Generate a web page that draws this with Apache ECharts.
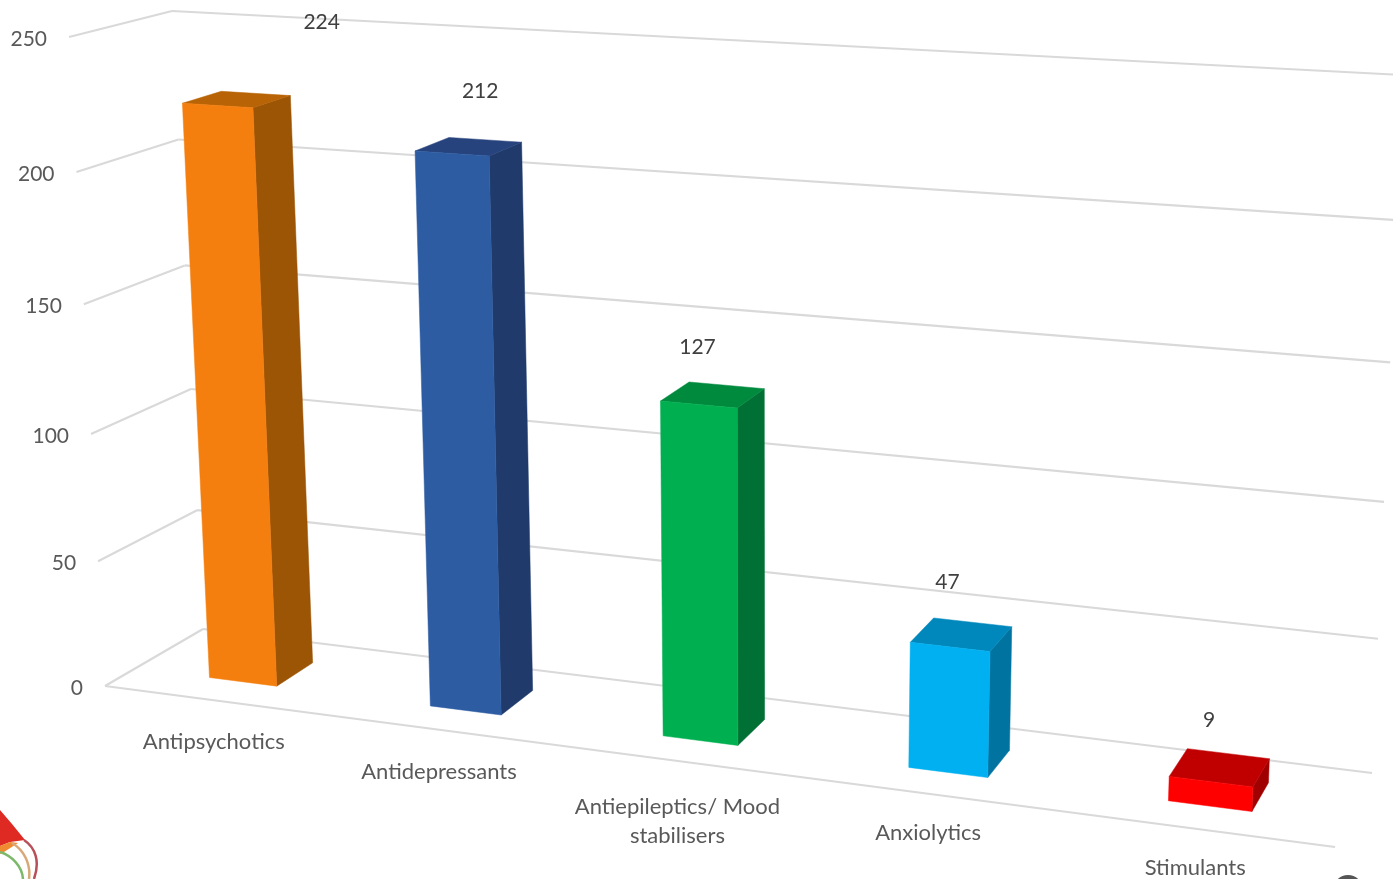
<!DOCTYPE html>
<html>
<head>
<meta charset="utf-8">
<title>Psychotropic prescriptions by class</title>
<style>html,body{margin:0;padding:0;background:#fff}#chart{width:1393px;height:879px}</style>
<script src="https://cdn.jsdelivr.net/npm/echarts@6/dist/echarts.min.js"></script>
</head>
<body>
<div id="chart"></div>
<script>
// Chart data
const categories = ['Antipsychotics', 'Antidepressants', 'Antiepileptics/ Mood\nstabilisers', 'Anxiolytics', 'Stimulants'];
const counts = [224, 212, 127, 47, 9];
const tickValues = [0, 50, 100, 150, 200, 250];
const tickLabels = ['0', '50', '100', '150', '200', '250'];

// Face colours per bar: front, side, top
const frontColors = ['#F47F0E', '#2D5CA3', '#00B050', '#00B0F0', '#FF0000'];
const sideColors = ['#9C5405', '#1F3A6B', '#007034', '#0073A0', '#A00000'];
const topColors = ['#B86305', '#26437D', '#008A3E', '#0088BC', '#C00000'];

// Pixel nudges for the text around the scene
const categoryLabelOffsets = [[0, 42], [-1, 42], [-1, 60], [-2, 39], [-1, 39]];
const valueLabelOffsets = [[66, -71], [-5, -49], [-29, -38], [-25, -40], [-19, -33]];

// Corners of the plot box on screen: [depth][value][category direction]
const boxCorners = {
  frontBottomLeft: [105, 686], frontBottomRight: [1335, 847],
  frontTopLeft: [69, 37], frontTopRight: [1368, 114],
  backBottomLeft: [203, 629], backBottomRight: [1372, 773],
  backTopLeft: [172, 11], backTopRight: [1403, 75]
};
const depthX = 0.145, depthV = 0.05;
const barBandShare = 0.31, barFrontDepth = 0.315, barBackDepth = 0.71;

const lerp = (a, b, t) => [a[0] + (b[0] - a[0]) * t, a[1] + (b[1] - a[1]) * t];
const warp = (t, k) => t / (1 + k * (1 - t));

// Project normalised plot coordinates (category, value, depth) into the box
function project(x, v, z) {
  const c = boxCorners, X = warp(x, depthX), V = warp(v, depthV);
  const frontBottom = lerp(c.frontBottomLeft, c.frontBottomRight, X);
  const frontTop = lerp(c.frontTopLeft, c.frontTopRight, X);
  const backBottom = lerp(c.backBottomLeft, c.backBottomRight, X);
  const backTop = lerp(c.backTopLeft, c.backTopRight, X);
  return lerp(lerp(frontBottom, frontTop, V), lerp(backBottom, backTop, V), z);
}

const normV = (api, cs, value) => (cs.y + cs.height - api.coord([0, value])[1]) / cs.height;
const normX = (cs, px) => (px - cs.x) / cs.width;
const FONT = '"Lato","Open Sans",sans-serif';
const gridStyle = { stroke: '#D9D9D9', lineWidth: 2.2, fill: null };

const line = (a, b) => ({ type: 'line', shape: { x1: a[0], y1: a[1], x2: b[0], y2: b[1] }, style: gridStyle });
const label = (text, p, fontSize, fill, align) => ({
  type: 'text',
  style: { text, x: p[0], y: p[1], fill, font: fontSize + 'px ' + FONT, align: align || 'center', verticalAlign: 'middle', lineHeight: 29 }
});

// Side wall, back wall and floor lines with the value ticks
function renderGrid(params, api) {
  const cs = params.coordSys, i = api.value(0), value = tickValues[i];
  const v = normV(api, cs, value);
  const children = [line(project(0, v, 0), project(0, v, 1)), line(project(0, v, 1), project(1, v, 1))];
  if (value === 0) children.push(line(project(0, 0, 0), project(1, 0, 0)));
  const anchor = project(0, v, 0);
  children.push(label(tickLabels[i], [anchor[0] - 22, anchor[1] + 2], 21, '#595959', 'right'));
  return { type: 'group', children };
}

// One box per category: front, side and top faces plus its two labels
function renderBar(params, api) {
  const cs = params.coordSys, i = api.value(0), count = api.value(1);
  const center = api.coord([i, 0])[0], band = api.size([1, 0])[0];
  const x0 = normX(cs, center - band * barBandShare / 2), x1 = normX(cs, center + band * barBandShare / 2);
  const xc = normX(cs, center), v = normV(api, cs, count);
  const zf = barFrontDepth, zb = barBackDepth;
  const face = (points, color) => ({ type: 'polygon', shape: { points }, style: { fill: color, stroke: color, lineWidth: 0.5 } });
  const base = project(xc, 0, 0), top = project(xc, v, zb);
  return {
    type: 'group',
    children: [
      face([project(x1, 0, zf), project(x1, 0, zb), project(x1, v, zb), project(x1, v, zf)], sideColors[i]),
      face([project(x0, v, zf), project(x1, v, zf), project(x1, v, zb), project(x0, v, zb)], topColors[i]),
      face([project(x0, 0, zf), project(x1, 0, zf), project(x1, v, zf), project(x0, v, zf)], frontColors[i]),
      label(String(count), [top[0] + valueLabelOffsets[i][0], top[1] + valueLabelOffsets[i][1]], 21, '#404040'),
      label(categories[i], [base[0] + categoryLabelOffsets[i][0], base[1] + categoryLabelOffsets[i][1]], 22, '#595959')
    ]
  };
}

const chart = echarts.init(document.getElementById('chart'), null, { renderer: 'canvas' });
chart.setOption({
  animation: false,
  backgroundColor: '#fff',
  grid: { left: 0, right: 0, top: 0, bottom: 0 },
  xAxis: { type: 'category', data: categories, show: false },
  yAxis: { type: 'value', min: 0, max: 250, interval: 50, show: false },
  series: [
    { type: 'custom', coordinateSystem: 'cartesian2d', silent: true, clip: false, z: 1,
      renderItem: renderGrid, encode: { x: 0, y: 1 }, data: tickValues.map((t, i) => [i, t]) },
    { type: 'custom', coordinateSystem: 'cartesian2d', silent: true, clip: false, z: 2,
      renderItem: renderBar, encode: { x: 0, y: 1 }, data: counts.map((c, i) => [i, c]) }
  ],
  // Corner of a logo and of a round emblem at the lower page edge
  graphic: [
    { type: 'polygon', z: 5, shape: { points: [[0, 810], [12, 824], [25, 840], [10, 842], [0, 846]] }, style: { fill: '#DE2A22' } },
    { type: 'polygon', z: 5, shape: { points: [[0, 846], [10, 842], [18, 843], [4, 852], [0, 854]] }, style: { fill: '#F08A30' } },
    { type: 'bezierCurve', z: 5, shape: { x1: 24, y1: 840, cpx1: 36, cpy1: 848, cpx2: 40, cpy2: 862, x2: 34, y2: 879 }, style: { stroke: '#B8505A', lineWidth: 2.5, fill: null } },
    { type: 'bezierCurve', z: 5, shape: { x1: 12, y1: 843, cpx1: 24, cpy1: 850, cpx2: 31, cpy2: 864, x2: 29, y2: 879 }, style: { stroke: '#D9A878', lineWidth: 2.5, fill: null } },
    { type: 'bezierCurve', z: 5, shape: { x1: 0, y1: 852, cpx1: 12, cpy1: 856, cpx2: 22, cpy2: 866, x2: 23, y2: 879 }, style: { stroke: '#7CB96A', lineWidth: 2.5, fill: null } },
    { type: 'circle', z: 5, shape: { cx: 1348, cy: 890, r: 15 }, style: { fill: '#555' } }
  ]
});
</script>
</body>
</html>
